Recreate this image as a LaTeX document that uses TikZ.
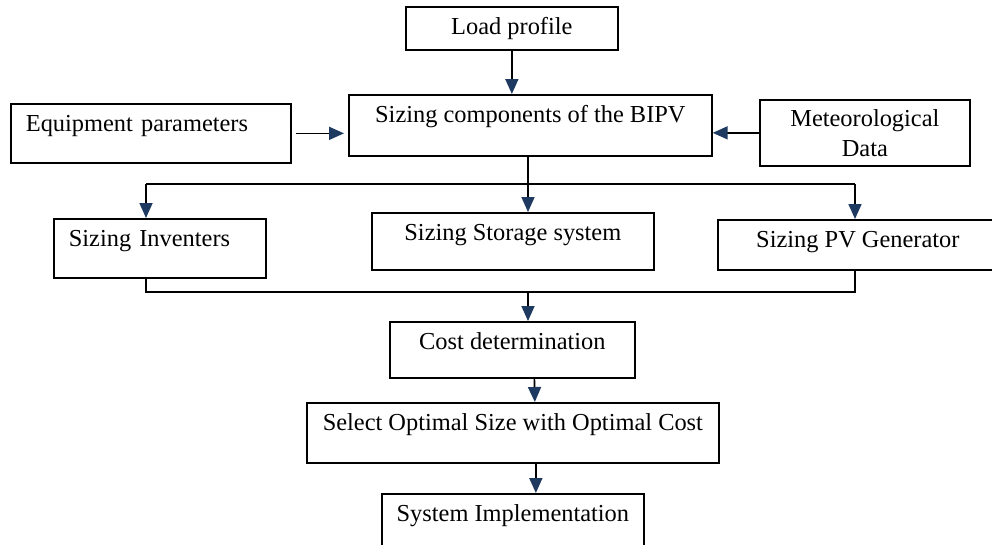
\documentclass[tikz,border=0pt]{standalone}
\usepackage{fontspec}
\setmainfont{Liberation Serif}
\usepackage{tikz}
\usetikzlibrary{arrows.meta}
\usetikzlibrary{positioning}
\usetikzlibrary{calc}
\definecolor{headblue}{HTML}{1F3A60}

\begin{document}
\begin{tikzpicture}[x=1pt, y=-1pt, line width=1.7pt,
    base/.style={draw, anchor=north west, inner sep=0pt, font=\fontsize{24.4}{30}\selectfont},
    box/.style={base, text height=27.5pt},
    leftbox/.style={box, align=left, inner xsep=15pt},
    arr/.style={-{Triangle[length=15pt, width=13pt, fill=headblue, color=headblue]}}]
    \useasboundingbox (0,0) rectangle (992,544);
    \clip (0,0) rectangle (992,544);
    \node[box, minimum width=212pt, text depth=15.5pt] (load) at (405,6) {Load profile};
    \node[leftbox, text width=250pt, text depth=31.5pt] (equip) at (10,103) {Equipment parameters};
    \node[box, minimum width=363pt, text depth=33.5pt] (bipv) at (348,94) {Sizing components of the BIPV};
    \node[base, minimum width=210pt, minimum height=66pt, align=center] (met) at (759,99) {Meteorological\\Data};
    \node[leftbox, text width=182pt, text depth=31.5pt] (inv) at (53,218) {Sizing Inventers};
    \node[box, minimum width=282pt, text depth=29.5pt] (sto) at (371,212) {Sizing Storage system};
    \node[box, minimum width=280pt, text depth=22.5pt] (pv) at (717,219) {Sizing PV Generator};
    \node[box, minimum width=245pt, text depth=28.5pt] (cost) at (389,321) {Cost determination};
    \node[box, minimum width=412pt, text depth=32.5pt] (sel) at (306,402) {Select Optimal Size with Optimal Cost};
    \node[box, minimum width=262pt, text depth=32.5pt] (sys) at (381,493) {System Implementation};
    \coordinate (fork) at (528,184);
    \coordinate (forkL) at (146,184);
    \coordinate (forkR) at (855,184);
    \coordinate (join) at (528,292);
    \coordinate (joinL) at (146,292);
    \coordinate (joinR) at (855,292);
    \draw[arr] (load.south) -- (load.south |- bipv.north);
    \draw[arr, shorten <=4pt, shorten >=4pt] (equip.east) -- (equip.east -| bipv.west);
    \draw[arr] (met.west) -- (met.west -| bipv.east);
    \draw (bipv.south -| fork) -- (fork);
    \draw (forkL) -- (forkR);
    \draw[arr] (forkL) -- (forkL |- inv.north);
    \draw[arr] (fork) -- (fork |- sto.north);
    \draw[arr] (forkR) -- (forkR |- pv.north);
    \draw (forkL |- inv.south) -- (joinL) -- (joinR) -- (forkR |- pv.south);
    \draw[arr] (join) -- (join |- cost.north);
    \draw[arr] ($(cost.south)+(22,0)$) -- ($(sel.north)+(22,0)$);
    \draw[arr] ($(sel.south)+(23,0)$) -- ($(sys.north)+(23,0)$);
\end{tikzpicture}
\end{document}
